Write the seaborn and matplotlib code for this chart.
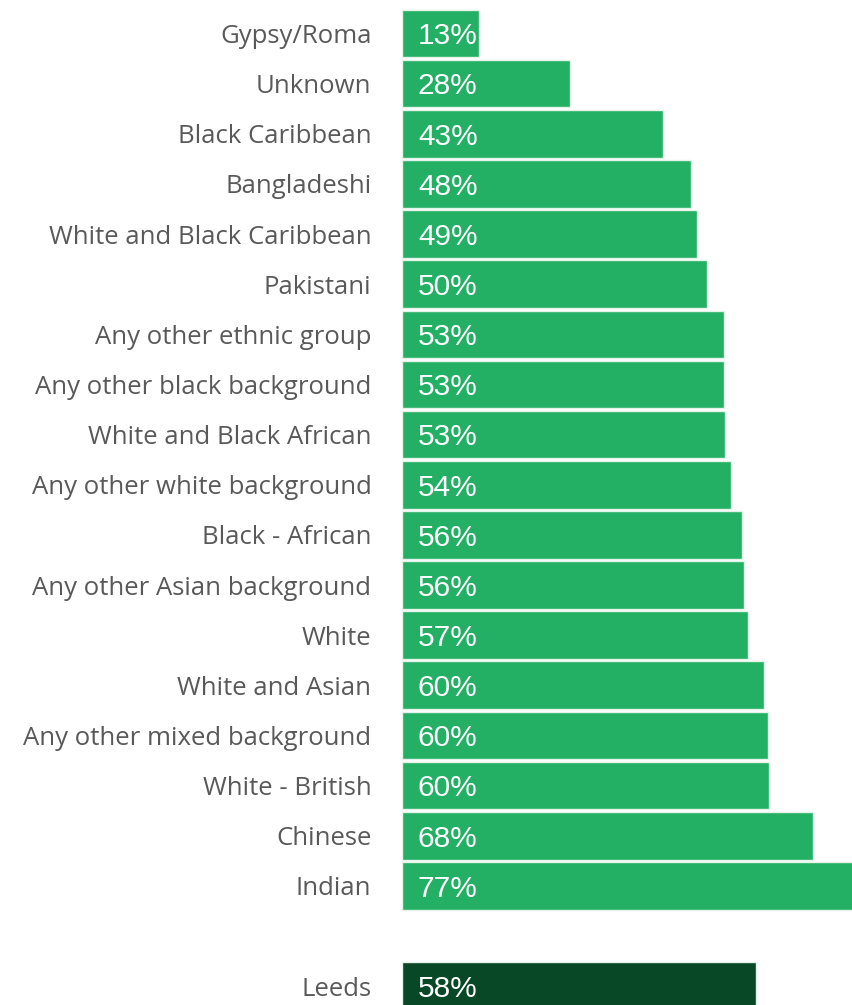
import matplotlib
matplotlib.use("Agg")
import matplotlib.pyplot as plt
import seaborn as sns
import pandas as pd

categories = [
    "Gypsy/Roma", "Unknown", "Black Caribbean", "Bangladeshi",
    "White and Black Caribbean", "Pakistani", "Any other ethnic group",
    "Any other black background", "White and Black African",
    "Any other white background", "Black - African",
    "Any other Asian background", "White", "White and Asian",
    "Any other mixed background", "White - British", "Chinese", "Indian",
]
values = [12.6, 27.7, 42.9, 47.6, 48.6, 50.2, 53.0, 53.0, 53.2, 54.1,
          56.0, 56.2, 57.0, 59.6, 60.2, 60.4, 67.6, 77.0]
total_label = "Leeds"
total_value = 58.2

df = pd.DataFrame({
    "group": categories + [total_label],
    "value": values + [total_value],
    "kind": ["ethnic"] * len(categories) + ["total"],
})
order = categories + [" ", total_label]
palette = {"ethnic": "#23B064", "total": "#084826"}

sns.set_style("white")
plt.rcParams["font.family"] = ["Open Sans", "DejaVu Sans"]

fig = plt.figure(figsize=(8.53, 10.05), dpi=100)
ax = fig.add_axes([402 / 853, 0, 451 / 853, 1])

sns.barplot(data=df, x="value", y="group", hue="kind", order=order,
            palette=palette, orient="h", width=0.95, dodge=False,
            saturation=1, legend=False, edgecolor="#e3f3e8", linewidth=1, ax=ax)

ax.set_xlim(0, 74.2)
ax.set_ylim(19.376, -0.668)
ax.set_xlabel("")
ax.set_ylabel("")
ax.set_xticks([])
for s in ax.spines.values():
    s.set_visible(False)
ax.tick_params(axis="y", length=0, pad=22, labelsize=18.5, labelcolor="#595959")

pos = {g: i for i, g in enumerate(order)}
for g, v in zip(df["group"], df["value"]):
    ax.annotate(f"{round(v):d}%", xy=(0, pos[g]), xytext=(11.5, -7.8),
                textcoords="offset points", va="baseline", ha="left",
                color="white", fontsize=21.5, family=["Liberation Sans", "DejaVu Sans"])

fig.savefig("out.png", dpi=100)
